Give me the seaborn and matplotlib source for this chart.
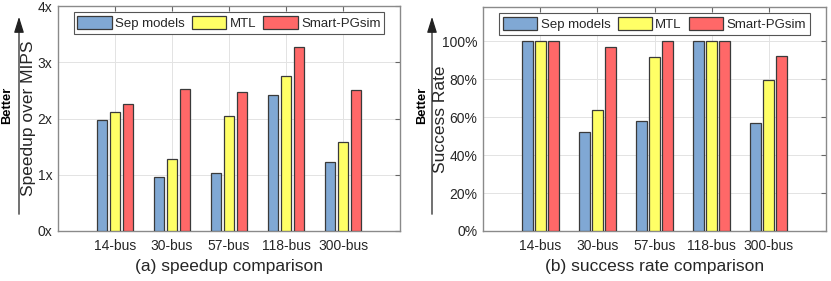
import numpy as np
import pandas as pd
import matplotlib
matplotlib.use("Agg")
import matplotlib.pyplot as plt
import seaborn as sns

# values
buses = ["14-bus", "30-bus", "57-bus", "118-bus", "300-bus"]
methods = ["Sep models", "MTL", "Smart-PGsim"]
speedup_sep = [1.97, 0.96, 1.04, 2.42, 1.23]
speedup_mtl = [2.11, 1.28, 2.05, 2.75, 1.59]
speedup_smart = [2.25, 2.53, 2.48, 3.28, 2.50]
success_sep = [1.00, 0.52, 0.578, 1.00, 0.57]
success_mtl = [1.00, 0.636, 0.916, 1.00, 0.794]
success_smart = [1.00, 0.97, 1.00, 1.00, 0.92]

palette = {"Sep models": "#80a8d4", "MTL": "#ffff66", "Smart-PGsim": "#ff6868"}

def long_df(sep, mtl, smart):
    rows = []
    for m, vals in zip(methods, [sep, mtl, smart]):
        for b, v in zip(buses, vals):
            rows.append({"bus": b, "method": m, "value": v})
    return pd.DataFrame(rows)

df_speed = long_df(speedup_sep, speedup_mtl, speedup_smart)
df_succ = long_df(success_sep, success_mtl, success_smart)

sns.set_style("white")
plt.rcParams["font.family"] = ["Liberation Sans", "DejaVu Sans"]

W, H = 831, 281
fig = plt.figure(figsize=(W / 100, H / 100), dpi=100)

def px_axes(x0, x1, ytop, ybot):
    return fig.add_axes([x0 / W, (H - ybot) / H, (x1 - x0) / W, (ybot - ytop) / H])

ax1 = px_axes(58, 400, 6, 231)
ax2 = px_axes(483, 826, 7, 231)

def draw(ax, df, ylim, yticks, yticklabels, ylabel, xlabel, ylabel_x):
    sns.barplot(data=df, x="bus", y="value", hue="method", palette=palette,
                width=0.68, gap=0.17, edgecolor="#3a3a3a", linewidth=0.9,
                saturation=1, ax=ax, zorder=3)
    handles, labels = ax.get_legend_handles_labels()
    ax.get_legend().remove()
    ax.legend(handles, labels, ncol=3, loc="upper center",
              bbox_to_anchor=(0.5, 0.985), fontsize=9.5, frameon=True,
              fancybox=False, framealpha=1, edgecolor="#555555",
              handlelength=2.6, handleheight=1.2, handletextpad=0.25,
              columnspacing=0.55, borderpad=0.3, borderaxespad=0.2)
    ax.legend_.get_frame().set_linewidth(0.8)
    ax.set_xlim(-1, 5)
    ax.set_ylim(*ylim)
    ax.set_yticks(yticks)
    ax.set_yticklabels(yticklabels)
    ax.set_xticks(range(len(buses)))
    ax.set_xticklabels(buses)
    ax.grid(True, color="#e3e3e3", linewidth=0.7, zorder=0)
    ax.set_axisbelow(True)
    for s in ax.spines.values():
        s.set_color("#8a8a8a")
        s.set_linewidth(1.0)
        s.set_visible(True)
    ax.tick_params(direction="in", length=3.5, width=0.8, color="#666666",
                   top=True, right=True, labelsize=10, labelcolor="#262626")
    ax.tick_params(axis="x", pad=6)
    ax.tick_params(axis="y", pad=4)
    ax.set_ylabel(ylabel, fontsize=12.5, color="#262626")
    ax.yaxis.set_label_coords(ylabel_x, 0.5)
    ax.set_xlabel(xlabel, fontsize=12.5, color="#262626", labelpad=4)

draw(ax1, df_speed, (0, 4), [0, 1, 2, 3, 4], ["0x", "1x", "2x", "3x", "4x"],
     "Speedup over MIPS", "(a) speedup comparison", -0.065)
draw(ax2, df_succ, (0, 1.18), [0, 0.2, 0.4, 0.6, 0.8, 1.0],
     ["0%", "20%", "40%", "60%", "80%", "100%"],
     "Success Rate", "(b) success rate comparison", -0.102)

# "Better" arrows beside the y labels
for x_arrow, x_text in [(19, 7), (432, 422)]:
    ax1.annotate("", xy=(x_arrow, H - 14), xytext=(x_arrow, H - 217),
                 xycoords="figure pixels", textcoords="figure pixels",
                 arrowprops=dict(arrowstyle="-|>,head_length=0.8,head_width=0.25",
                                 color="#222222", lw=0.9, mutation_scale=12),
                 annotation_clip=False)
    fig.text(x_text / W, (H - 105) / H, "Better", rotation=90, fontsize=9.3,
             fontweight="bold", ha="center", va="center", color="black")

fig.savefig("out.png", dpi=100)
